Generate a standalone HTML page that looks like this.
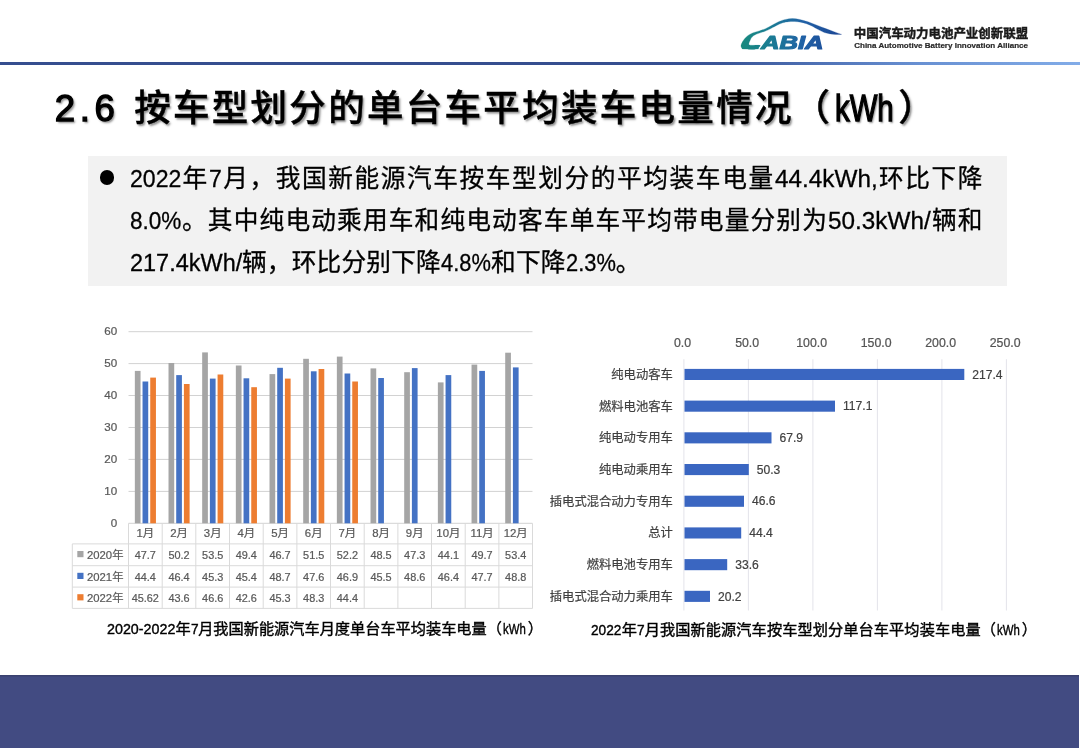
<!DOCTYPE html>
<html lang="zh-CN"><head><meta charset="utf-8"><title>2.6 按车型划分的单台车平均装车电量情况（kWh）</title>
<style>
html,body{margin:0;padding:0;background:#fff;}
body{width:1080px;height:748px;position:relative;overflow:hidden;font-family:"Liberation Sans", "Noto Sans CJK SC", sans-serif;color:#000;}
.abs{position:absolute;}
#hline{left:0;top:62px;width:1080px;height:3px;background:linear-gradient(90deg,#354e8f 0%,#354e8f 60%,#3a5596 67%,#4d6fb3 75%,#6890d2 85%,#82ace8 100%);}
#title{left:54.8px;top:84.8px;font-size:36.5px;letter-spacing:2.3px;font-weight:500;-webkit-text-stroke:0.45px #000;white-space:nowrap;line-height:48px;text-shadow:1.6px 1.6px 2.2px rgba(0,0,0,.45);}
#box{left:88px;top:155.5px;width:919px;height:130px;background:#f2f2f2;}
#bullet{left:99.5px;top:170px;width:14.8px;height:14.8px;border-radius:50%;background:#000;}
.ln{left:129.5px;width:853px;-webkit-text-stroke:0.3px #000;font-size:24.7px;line-height:42px;height:42px;white-space:nowrap;text-align:justify;text-align-last:justify;text-justify:inter-character;}
#footer{left:0;top:674.6px;width:1079px;height:74px;background:#424b82;box-shadow:inset 0 1.5px 0 #3a416f, inset 0 -1px 0 #3d4578;}
.l{display:inline-block;letter-spacing:0;white-space:nowrap;transform-origin:0 50%;text-align:left;}
#title .l{font-weight:normal;-webkit-text-stroke:1.3px #000;}
.cap{font-size:15.2px;white-space:nowrap;line-height:20px;-webkit-text-stroke:0.4px #000;}
svg text{font-family:"Liberation Sans", "Noto Sans CJK SC", sans-serif;}
.ch text{stroke:#595959;stroke-width:0.22px;}
.ch2 text{stroke:#404040;stroke-width:0.2px;}
</style></head><body>

<svg class="abs" id="logo" style="left:730px;top:10px" width="320" height="50" viewBox="0 0 320 50">
<defs><linearGradient id="lg" gradientUnits="userSpaceOnUse" x1="11" y1="0" x2="112" y2="0"><stop offset="0" stop-color="#178a7d"/><stop offset="0.3" stop-color="#1a7b94"/><stop offset="0.62" stop-color="#2060a6"/><stop offset="1" stop-color="#1b4593"/></linearGradient>
<clipPath id="cc"><rect x="0" y="35" width="31" height="10"/><path d="M29 42 L34.5 22 L120 22 L120 42 Z"/></clipPath></defs>
<g clip-path="url(#cc)"><text x="12.6" y="39.1" font-size="18.6" font-weight="bold" font-style="italic" textLength="81" lengthAdjust="spacingAndGlyphs" fill="url(#lg)" stroke="url(#lg)" stroke-width="1.1" stroke-linejoin="round">CABIA</text></g>
<path d="M28.4 39.1 C26.0 39.1 17.0 39.3 14.2 39.1 C11.4 38.9 12.2 38.5 11.7 37.9 C11.2 37.3 10.8 36.4 11.0 35.4 C11.2 34.4 11.9 32.9 12.6 31.6 C13.3 30.4 14.4 28.9 15.3 27.9 C16.2 26.9 16.9 26.2 18.1 25.4 C19.3 24.6 20.8 23.6 22.6 22.9 C24.5 22.1 27.1 21.6 29.2 20.9 C31.3 20.2 33.3 19.7 35.5 18.7 C37.7 17.7 40.0 16.2 42.4 15.0 C44.8 13.8 47.6 12.1 49.8 11.2 C52.0 10.3 53.6 9.8 55.7 9.4 C57.8 9.0 60.0 8.5 62.4 8.5 C64.8 8.5 67.2 8.9 69.8 9.5 C72.4 10.1 75.2 10.9 78.0 11.8 C80.8 12.8 84.0 14.1 86.9 15.2 C89.9 16.3 92.8 17.5 95.7 18.6 C98.7 19.7 101.9 20.9 104.6 21.9 C107.2 22.9 110.4 24.0 111.6 24.4 L111.6 24.4 C110.6 24.4 107.3 24.5 105.4 24.4 C103.5 24.3 102.1 24.2 100.2 23.9 C98.3 23.6 96.3 23.2 94.3 22.5 C92.3 21.8 90.3 20.6 88.3 19.6 C86.3 18.6 84.4 17.3 82.4 16.3 C80.4 15.3 78.5 14.4 76.5 13.7 C74.5 13.0 72.6 12.6 70.6 12.2 C68.6 11.8 66.6 11.6 64.6 11.5 C62.6 11.4 60.7 11.5 58.7 11.7 C56.7 11.9 54.9 12.1 52.8 12.8 C50.7 13.5 48.3 14.6 46.1 15.7 C43.9 16.8 41.2 18.4 39.4 19.3 C37.6 20.2 36.9 20.4 35.5 21.0 C34.1 21.6 32.6 22.0 30.9 22.6 C29.2 23.2 26.8 23.9 25.3 24.7 C23.8 25.4 22.9 26.2 22.0 27.1 C21.1 28.1 20.6 29.3 20.1 30.4 C19.6 31.5 18.9 32.8 18.9 33.6 C18.9 34.4 18.6 34.9 20.3 35.2 C22.1 35.5 27.9 35.2 29.4 35.2 Z" fill="url(#lg)" stroke="url(#lg)" stroke-width="0.25" stroke-linejoin="round"/>
<text x="123.8" y="27.5" font-size="12.45" font-weight="bold" fill="#1a1a1a" stroke="#1a1a1a" stroke-width="0.45" textLength="174.3" lengthAdjust="spacingAndGlyphs">中国汽车动力电池产业创新联盟</text>
<text x="124.2" y="37.8" font-size="7.7" font-weight="bold" fill="#2a2a2a" stroke="#2a2a2a" stroke-width="0.2" textLength="173.8" lengthAdjust="spacingAndGlyphs">China Automotive Battery Innovation Alliance</text>
</svg>
<div class="abs" id="hline"></div>
<div class="abs" id="title"><span class="l" style="width:2.175em;letter-spacing:0.1268em">2.6 </span>按车型划分的单台车平均装车电量情况<span style="margin-left:-0.3px">（</span><span style="margin:0 4.4px 0 3px"><span class="l" style="width:1.607em;transform:scaleX(0.8034)">kWh</span></span>）</div>
<div class="abs" id="box"></div><div class="abs" id="bullet"></div>
<div class="abs ln" style="top:157.5px;"><span class="l" style="width:2.080em;transform:scaleX(0.9350)">2022</span>年<span class="l" style="width:0.520em;transform:scaleX(0.9350)">7</span>月，我国新能源汽车按车型划分的平均装车电量<span class="l" style="width:4.160em;transform:scaleX(0.9848)">44.4kWh,</span>环比下降</div>
<div class="abs ln" style="top:200px;"><span class="l" style="width:2.080em;transform:scaleX(0.9126)">8.0%</span>。其中纯电动乘用车和纯电动客车单车平均带电量分别为<span class="l" style="width:4.160em;transform:scaleX(0.9848)">50.3kWh/</span>辆和</div>
<div class="abs ln" style="top:241.5px;width:511px;"><span class="l" style="width:4.545em;transform:scaleX(0.9508)">217.4kWh/</span>辆，环比分别下降<span class="l" style="width:2.020em;transform:scaleX(0.8862)">4.8%</span>和下降<span class="l" style="width:2.020em;transform:scaleX(0.8862)">2.3%</span>。</div>
<svg class="abs ch" style="left:0;top:300px" width="560" height="330" viewBox="0 300 560 330">
<line x1="128.5" x2="532.5" y1="523.3" y2="523.3" stroke="#d2d2d2" stroke-width="1"/>
<text x="117.2" y="527.0" font-size="11.6" fill="#595959" text-anchor="end">0</text>
<line x1="128.5" x2="532.5" y1="491.4" y2="491.4" stroke="#d2d2d2" stroke-width="1"/>
<text x="117.2" y="495.1" font-size="11.6" fill="#595959" text-anchor="end">10</text>
<line x1="128.5" x2="532.5" y1="459.4" y2="459.4" stroke="#d2d2d2" stroke-width="1"/>
<text x="117.2" y="463.1" font-size="11.6" fill="#595959" text-anchor="end">20</text>
<line x1="128.5" x2="532.5" y1="427.5" y2="427.5" stroke="#d2d2d2" stroke-width="1"/>
<text x="117.2" y="431.2" font-size="11.6" fill="#595959" text-anchor="end">30</text>
<line x1="128.5" x2="532.5" y1="395.5" y2="395.5" stroke="#d2d2d2" stroke-width="1"/>
<text x="117.2" y="399.2" font-size="11.6" fill="#595959" text-anchor="end">40</text>
<line x1="128.5" x2="532.5" y1="363.6" y2="363.6" stroke="#d2d2d2" stroke-width="1"/>
<text x="117.2" y="367.3" font-size="11.6" fill="#595959" text-anchor="end">50</text>
<line x1="128.5" x2="532.5" y1="331.7" y2="331.7" stroke="#d2d2d2" stroke-width="1"/>
<text x="117.2" y="335.4" font-size="11.6" fill="#595959" text-anchor="end">60</text>
<rect x="134.84" y="370.9" width="5.7" height="152.4" fill="#a5a5a5"/>
<rect x="142.53" y="381.5" width="5.7" height="141.8" fill="#4472c4"/>
<rect x="150.24" y="377.6" width="5.7" height="145.7" fill="#ed7d31"/>
<rect x="168.51" y="363.0" width="5.7" height="160.3" fill="#a5a5a5"/>
<rect x="176.21" y="375.1" width="5.7" height="148.2" fill="#4472c4"/>
<rect x="183.91" y="384.0" width="5.7" height="139.3" fill="#ed7d31"/>
<rect x="202.18" y="352.4" width="5.7" height="170.9" fill="#a5a5a5"/>
<rect x="209.88" y="378.6" width="5.7" height="144.7" fill="#4472c4"/>
<rect x="217.58" y="374.5" width="5.7" height="148.8" fill="#ed7d31"/>
<rect x="235.84" y="365.5" width="5.7" height="157.8" fill="#a5a5a5"/>
<rect x="243.54" y="378.3" width="5.7" height="145.0" fill="#4472c4"/>
<rect x="251.25" y="387.2" width="5.7" height="136.1" fill="#ed7d31"/>
<rect x="269.51" y="374.1" width="5.7" height="149.2" fill="#a5a5a5"/>
<rect x="277.21" y="367.8" width="5.7" height="155.5" fill="#4472c4"/>
<rect x="284.91" y="378.6" width="5.7" height="144.7" fill="#ed7d31"/>
<rect x="303.19" y="358.8" width="5.7" height="164.5" fill="#a5a5a5"/>
<rect x="310.88" y="371.3" width="5.7" height="152.0" fill="#4472c4"/>
<rect x="318.58" y="369.0" width="5.7" height="154.3" fill="#ed7d31"/>
<rect x="336.85" y="356.6" width="5.7" height="166.7" fill="#a5a5a5"/>
<rect x="344.55" y="373.5" width="5.7" height="149.8" fill="#4472c4"/>
<rect x="352.25" y="381.5" width="5.7" height="141.8" fill="#ed7d31"/>
<rect x="370.52" y="368.4" width="5.7" height="154.9" fill="#a5a5a5"/>
<rect x="378.22" y="378.0" width="5.7" height="145.3" fill="#4472c4"/>
<rect x="404.19" y="372.2" width="5.7" height="151.1" fill="#a5a5a5"/>
<rect x="411.89" y="368.1" width="5.7" height="155.2" fill="#4472c4"/>
<rect x="437.87" y="382.4" width="5.7" height="140.9" fill="#a5a5a5"/>
<rect x="445.56" y="375.1" width="5.7" height="148.2" fill="#4472c4"/>
<rect x="471.54" y="364.6" width="5.7" height="158.7" fill="#a5a5a5"/>
<rect x="479.24" y="370.9" width="5.7" height="152.4" fill="#4472c4"/>
<rect x="505.21" y="352.7" width="5.7" height="170.6" fill="#a5a5a5"/>
<rect x="512.91" y="367.4" width="5.7" height="155.9" fill="#4472c4"/>
<line x1="72.3" x2="532.5" y1="543.9" y2="543.9" stroke="#dadada" stroke-width="1"/>
<line x1="72.3" x2="532.5" y1="565.7" y2="565.7" stroke="#dadada" stroke-width="1"/>
<line x1="72.3" x2="532.5" y1="587.1" y2="587.1" stroke="#dadada" stroke-width="1"/>
<line x1="72.3" x2="532.5" y1="608.4" y2="608.4" stroke="#dadada" stroke-width="1"/>
<line x1="128.5" x2="128.5" y1="523.3" y2="608.4" stroke="#dadada" stroke-width="1"/>
<line x1="162.2" x2="162.2" y1="523.3" y2="608.4" stroke="#dadada" stroke-width="1"/>
<line x1="195.8" x2="195.8" y1="523.3" y2="608.4" stroke="#dadada" stroke-width="1"/>
<line x1="229.5" x2="229.5" y1="523.3" y2="608.4" stroke="#dadada" stroke-width="1"/>
<line x1="263.2" x2="263.2" y1="523.3" y2="608.4" stroke="#dadada" stroke-width="1"/>
<line x1="296.9" x2="296.9" y1="523.3" y2="608.4" stroke="#dadada" stroke-width="1"/>
<line x1="330.5" x2="330.5" y1="523.3" y2="608.4" stroke="#dadada" stroke-width="1"/>
<line x1="364.2" x2="364.2" y1="523.3" y2="608.4" stroke="#dadada" stroke-width="1"/>
<line x1="397.9" x2="397.9" y1="523.3" y2="608.4" stroke="#dadada" stroke-width="1"/>
<line x1="431.5" x2="431.5" y1="523.3" y2="608.4" stroke="#dadada" stroke-width="1"/>
<line x1="465.2" x2="465.2" y1="523.3" y2="608.4" stroke="#dadada" stroke-width="1"/>
<line x1="498.9" x2="498.9" y1="523.3" y2="608.4" stroke="#dadada" stroke-width="1"/>
<line x1="532.5" x2="532.5" y1="523.3" y2="608.4" stroke="#dadada" stroke-width="1"/>
<line x1="72.3" x2="72.3" y1="543.9" y2="608.4" stroke="#dadada" stroke-width="1"/>
<text x="145.3" y="537.2" font-size="11.4" fill="#595959" text-anchor="middle">1月</text>
<text x="145.3" y="558.7" font-size="10.9" fill="#595959" text-anchor="middle">47.7</text>
<text x="145.3" y="580.5" font-size="10.9" fill="#595959" text-anchor="middle">44.4</text>
<text x="145.3" y="601.9" font-size="10.9" fill="#595959" text-anchor="middle">45.62</text>
<text x="179.0" y="537.2" font-size="11.4" fill="#595959" text-anchor="middle">2月</text>
<text x="179.0" y="558.7" font-size="10.9" fill="#595959" text-anchor="middle">50.2</text>
<text x="179.0" y="580.5" font-size="10.9" fill="#595959" text-anchor="middle">46.4</text>
<text x="179.0" y="601.9" font-size="10.9" fill="#595959" text-anchor="middle">43.6</text>
<text x="212.7" y="537.2" font-size="11.4" fill="#595959" text-anchor="middle">3月</text>
<text x="212.7" y="558.7" font-size="10.9" fill="#595959" text-anchor="middle">53.5</text>
<text x="212.7" y="580.5" font-size="10.9" fill="#595959" text-anchor="middle">45.3</text>
<text x="212.7" y="601.9" font-size="10.9" fill="#595959" text-anchor="middle">46.6</text>
<text x="246.3" y="537.2" font-size="11.4" fill="#595959" text-anchor="middle">4月</text>
<text x="246.3" y="558.7" font-size="10.9" fill="#595959" text-anchor="middle">49.4</text>
<text x="246.3" y="580.5" font-size="10.9" fill="#595959" text-anchor="middle">45.4</text>
<text x="246.3" y="601.9" font-size="10.9" fill="#595959" text-anchor="middle">42.6</text>
<text x="280.0" y="537.2" font-size="11.4" fill="#595959" text-anchor="middle">5月</text>
<text x="280.0" y="558.7" font-size="10.9" fill="#595959" text-anchor="middle">46.7</text>
<text x="280.0" y="580.5" font-size="10.9" fill="#595959" text-anchor="middle">48.7</text>
<text x="280.0" y="601.9" font-size="10.9" fill="#595959" text-anchor="middle">45.3</text>
<text x="313.7" y="537.2" font-size="11.4" fill="#595959" text-anchor="middle">6月</text>
<text x="313.7" y="558.7" font-size="10.9" fill="#595959" text-anchor="middle">51.5</text>
<text x="313.7" y="580.5" font-size="10.9" fill="#595959" text-anchor="middle">47.6</text>
<text x="313.7" y="601.9" font-size="10.9" fill="#595959" text-anchor="middle">48.3</text>
<text x="347.4" y="537.2" font-size="11.4" fill="#595959" text-anchor="middle">7月</text>
<text x="347.4" y="558.7" font-size="10.9" fill="#595959" text-anchor="middle">52.2</text>
<text x="347.4" y="580.5" font-size="10.9" fill="#595959" text-anchor="middle">46.9</text>
<text x="347.4" y="601.9" font-size="10.9" fill="#595959" text-anchor="middle">44.4</text>
<text x="381.0" y="537.2" font-size="11.4" fill="#595959" text-anchor="middle">8月</text>
<text x="381.0" y="558.7" font-size="10.9" fill="#595959" text-anchor="middle">48.5</text>
<text x="381.0" y="580.5" font-size="10.9" fill="#595959" text-anchor="middle">45.5</text>
<text x="414.7" y="537.2" font-size="11.4" fill="#595959" text-anchor="middle">9月</text>
<text x="414.7" y="558.7" font-size="10.9" fill="#595959" text-anchor="middle">47.3</text>
<text x="414.7" y="580.5" font-size="10.9" fill="#595959" text-anchor="middle">48.6</text>
<text x="448.4" y="537.2" font-size="11.4" fill="#595959" text-anchor="middle">10月</text>
<text x="448.4" y="558.7" font-size="10.9" fill="#595959" text-anchor="middle">44.1</text>
<text x="448.4" y="580.5" font-size="10.9" fill="#595959" text-anchor="middle">46.4</text>
<text x="482.0" y="537.2" font-size="11.4" fill="#595959" text-anchor="middle">11月</text>
<text x="482.0" y="558.7" font-size="10.9" fill="#595959" text-anchor="middle">49.7</text>
<text x="482.0" y="580.5" font-size="10.9" fill="#595959" text-anchor="middle">47.7</text>
<text x="515.7" y="537.2" font-size="11.4" fill="#595959" text-anchor="middle">12月</text>
<text x="515.7" y="558.7" font-size="10.9" fill="#595959" text-anchor="middle">53.4</text>
<text x="515.7" y="580.5" font-size="10.9" fill="#595959" text-anchor="middle">48.8</text>
<rect x="77.3" y="551.0" width="6.2" height="6.2" fill="#a5a5a5"/>
<text x="87" y="558.8" font-size="11.3" fill="#595959">2020年</text>
<rect x="77.3" y="572.8" width="6.2" height="6.2" fill="#4472c4"/>
<text x="87" y="580.6" font-size="11.3" fill="#595959">2021年</text>
<rect x="77.3" y="594.2" width="6.2" height="6.2" fill="#ed7d31"/>
<text x="87" y="602.0" font-size="11.3" fill="#595959">2022年</text>
</svg>
<div class="abs cap" style="left:107px;top:618.6px;"><span class="l" style="width:4.500em;transform:scaleX(0.9410)">2020-2022</span>年<span class="l" style="width:0.500em;transform:scaleX(0.8990)">7</span>月我国新能源汽车月度单台车平均装车电量（<span style="margin:0 1.8px 0 1.2px"><span class="l" style="width:1.500em;transform:scaleX(0.7500)">kWh</span></span>）</div>
<svg class="abs ch2" style="left:540px;top:320px" width="540" height="300" viewBox="540 320 540 300">
<line x1="683.9" x2="683.9" y1="359.2" y2="610.5" stroke="#e4e4ea" stroke-width="1"/>
<text x="682.6" y="346.9" font-size="12.3" fill="#595959" text-anchor="middle">0.0</text>
<line x1="748.4" x2="748.4" y1="359.2" y2="610.5" stroke="#e4e4ea" stroke-width="1"/>
<text x="747.1" y="346.9" font-size="12.3" fill="#595959" text-anchor="middle">50.0</text>
<line x1="812.9" x2="812.9" y1="359.2" y2="610.5" stroke="#e4e4ea" stroke-width="1"/>
<text x="811.6" y="346.9" font-size="12.3" fill="#595959" text-anchor="middle">100.0</text>
<line x1="877.4" x2="877.4" y1="359.2" y2="610.5" stroke="#e4e4ea" stroke-width="1"/>
<text x="876.1" y="346.9" font-size="12.3" fill="#595959" text-anchor="middle">150.0</text>
<line x1="941.9" x2="941.9" y1="359.2" y2="610.5" stroke="#e4e4ea" stroke-width="1"/>
<text x="940.6" y="346.9" font-size="12.3" fill="#595959" text-anchor="middle">200.0</text>
<line x1="1006.4" x2="1006.4" y1="359.2" y2="610.5" stroke="#e4e4ea" stroke-width="1"/>
<text x="1005.1" y="346.9" font-size="12.3" fill="#595959" text-anchor="middle">250.0</text>
<rect x="684.5" y="368.9" width="279.8" height="11.1" fill="#3a66c1"/>
<text x="972.3" y="378.6" font-size="12.1" fill="#404040">217.4</text>
<text x="672.8" y="378.8" font-size="12.3" fill="#404040" text-anchor="end">纯电动客车</text>
<rect x="684.5" y="400.6" width="150.5" height="11.1" fill="#3a66c1"/>
<text x="843.0" y="410.3" font-size="12.1" fill="#404040">117.1</text>
<text x="672.8" y="410.5" font-size="12.3" fill="#404040" text-anchor="end">燃料电池客车</text>
<rect x="684.5" y="432.3" width="87.0" height="11.1" fill="#3a66c1"/>
<text x="779.5" y="442.0" font-size="12.1" fill="#404040">67.9</text>
<text x="672.8" y="442.2" font-size="12.3" fill="#404040" text-anchor="end">纯电动专用车</text>
<rect x="684.5" y="464.0" width="64.3" height="11.1" fill="#3a66c1"/>
<text x="756.8" y="473.7" font-size="12.1" fill="#404040">50.3</text>
<text x="672.8" y="473.9" font-size="12.3" fill="#404040" text-anchor="end">纯电动乘用车</text>
<rect x="684.5" y="495.7" width="59.5" height="11.1" fill="#3a66c1"/>
<text x="752.0" y="505.4" font-size="12.1" fill="#404040">46.6</text>
<text x="672.8" y="505.6" font-size="12.3" fill="#404040" text-anchor="end">插电式混合动力专用车</text>
<rect x="684.5" y="527.4" width="56.7" height="11.1" fill="#3a66c1"/>
<text x="749.2" y="537.1" font-size="12.1" fill="#404040">44.4</text>
<text x="672.8" y="537.3" font-size="12.3" fill="#404040" text-anchor="end">总计</text>
<rect x="684.5" y="559.1" width="42.7" height="11.1" fill="#3a66c1"/>
<text x="735.2" y="568.9" font-size="12.1" fill="#404040">33.6</text>
<text x="672.8" y="569.0" font-size="12.3" fill="#404040" text-anchor="end">燃料电池专用车</text>
<rect x="684.5" y="590.8" width="25.5" height="11.1" fill="#3a66c1"/>
<text x="718.0" y="600.6" font-size="12.1" fill="#404040">20.2</text>
<text x="672.8" y="600.8" font-size="12.3" fill="#404040" text-anchor="end">插电式混合动力乘用车</text>
</svg>
<div class="abs cap" style="left:591.4px;top:620.3px;letter-spacing:0.09px;"><span class="l" style="width:2.000em;transform:scaleX(0.8990)">2022</span>年<span class="l" style="width:0.500em;transform:scaleX(0.8990)">7</span>月我国新能源汽车按车型划分单台车平均装车电量（<span style="margin:0 1.8px 0 1.2px"><span class="l" style="width:1.500em;transform:scaleX(0.7500)">kWh</span></span>）</div>
<div class="abs" id="footer"></div>
</body></html>
